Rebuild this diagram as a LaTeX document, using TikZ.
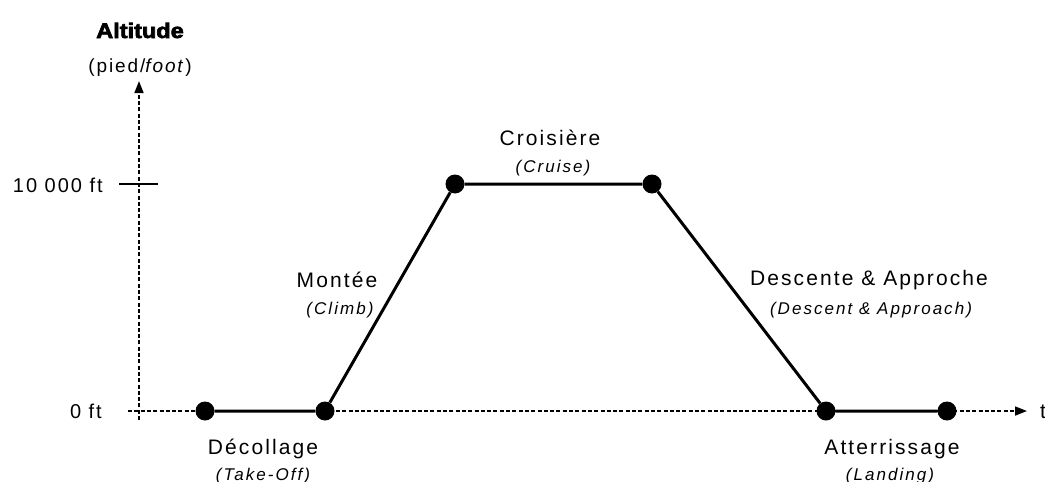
\documentclass[tikz,border=0pt]{standalone}
\usepackage{fontspec}
\setmainfont{Liberation Sans}
\newfontfamily\lblfont[LetterSpace=10]{Liberation Sans}
\newfontfamily\subfont[LetterSpace=12]{Liberation Sans}
\newfontfamily\altfont[BoldFeatures={FakeBold=3}]{Liberation Sans}
\usetikzlibrary{arrows.meta}
\begin{document}
\begin{tikzpicture}[x=1pt,y=-1pt,
  axis/.style={line width=1.7pt,dash pattern=on 4pt off 2.3pt,-{Triangle[length=12pt,width=9pt]}},
  profile/.style={line width=3pt},
  pt/.style={circle,fill=black,inner sep=0pt,minimum size=19pt},
  lbl/.style={font=\lblfont\fontsize{21}{24}\selectfont,anchor=base,inner sep=0pt},
  sub/.style={font=\subfont\itshape\fontsize{17}{20}\selectfont,anchor=base,inner sep=0pt},
  axlbl/.style={font=\lblfont\fontsize{20}{24}\selectfont,anchor=base east,inner sep=0pt}]
\useasboundingbox (0,0) rectangle (1045,482);
% axes
\coordinate (xs) at (128,411);
\coordinate (xe) at (1027,411);
\coordinate (ys) at (139,420);
\coordinate (ye) at (139,81);
\draw[axis] (xs) -- (xe);
\draw[axis] (ys) -- (ye);
\coordinate (tk1) at (119,184);
\coordinate (tk2) at (158,184);
\draw[line width=1.5pt] (tk1) -- (tk2);
% points
\node[pt] (p1) at (205,411) {};
\node[pt] (p2) at (325,411) {};
\node[pt] (p3) at (455,184) {};
\node[pt] (p4) at (652,184) {};
\node[pt] (p5) at (826,411) {};
\node[pt] (p6) at (947,411) {};
\draw[profile] (p1) -- (p2) -- (p3) -- (p4) -- (p5) -- (p6);
% axis labels
\node[font=\altfont\bfseries\fontsize{21}{24}\selectfont,anchor=base,inner sep=0pt,xscale=1.12] (alt) at (140,38) {Altitude};
\node[lbl,font=\lblfont\fontsize{19}{22}\selectfont] (unit) at (140,72) {(pied/\textit{foot})};
\node[axlbl] (h10) at (103,192) {10 000 ft};
\node[axlbl] (h0) at (102,418) {0 ft};
\node[lbl,anchor=base west] (t) at (1040,418) {t};
% phase labels
\node[lbl] (to) at (263,454) {Décollage};
\node[sub] (tos) at (263,480) {(Take-Off)};
\node[lbl] (cl) at (337,287) {Montée};
\node[sub] (cls) at (340,314) {(Climb)};
\node[lbl] (cr) at (550,145) {Croisière};
\node[sub] (crs) at (553,172) {(Cruise)};
\node[lbl] (de) at (869,285) {Descente \& Approche};
\node[sub] (des) at (871,314) {(Descent \& Approach)};
\node[lbl] (la) at (892,454) {Atterrissage};
\node[sub] (las) at (890,480) {(Landing)};
\end{tikzpicture}
\end{document}
